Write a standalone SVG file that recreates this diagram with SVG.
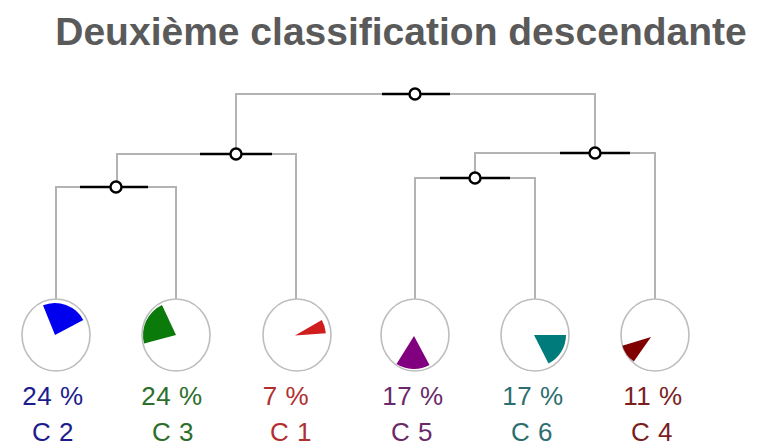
<svg xmlns="http://www.w3.org/2000/svg" width="759" height="448" viewBox="0 0 759 448">
<style>
.title{font-family:"Liberation Sans",Arial,sans-serif;font-weight:bold;font-size:39px;fill:#5a5a5a}
.lbl{font-family:"Liberation Sans",Arial,sans-serif;font-size:26px;text-anchor:middle;letter-spacing:0.5px}
.gl{stroke:#b3b3b3;stroke-width:2;fill:none}
.bl{stroke:#000;stroke-width:2.6;fill:none}
.nd{fill:#fff;stroke:#000;stroke-width:2.4}
.leaf{fill:#fff;stroke:#bdbdbd;stroke-width:1.6}
</style>
<rect width="759" height="448" fill="#fff"/>
<text class="title" x="401" y="45" text-anchor="middle">Deuxième classification descendante</text>
<g id="connectors">
<path class="gl" d="M236,154 V94 H595 V153"/>
<path class="gl" d="M117,187 V154 H296 V300"/>
<path class="gl" d="M56,300 V187 H176 V300"/>
<path class="gl" d="M475,178 V153 H655 V300"/>
<path class="gl" d="M415,300 V178 H535 V300"/>
<path class="bl" d="M382,94 H450"/>
<path class="bl" d="M200,154 H272"/>
<path class="bl" d="M80,187 H148"/>
<path class="bl" d="M560,153 H630"/>
<path class="bl" d="M440,178 H510"/>
</g>
<g id="n-root"><circle class="nd" cx="415" cy="94" r="5.5"/></g>
<g id="n-left"><circle class="nd" cx="236" cy="154" r="5.5"/></g>
<g id="n-c2c3"><circle class="nd" cx="116" cy="187" r="5.5"/></g>
<g id="n-right"><circle class="nd" cx="595" cy="153" r="5.5"/></g>
<g id="n-c5c6"><circle class="nd" cx="475" cy="178" r="5.5"/></g>
<g id="C2">
<ellipse class="leaf" cx="56" cy="335" rx="34" ry="36"/>
<path d="M55,335 L43,305.3 A32,32 0 0 1 83.3,320 Z" fill="#0000ee"/>
<text class="lbl" x="53" y="405" fill="#1c1c8c">24 %</text>
<text class="lbl" x="53" y="441" fill="#1c1c8c">C 2</text>
</g>
<g id="C3">
<ellipse class="leaf" cx="176" cy="335" rx="34" ry="36"/>
<path d="M176,335 L144.1,343.5 A33,33 0 0 1 162,305.1 Z" fill="#0a7a0a"/>
<text class="lbl" x="172" y="405" fill="#2d6e2d">24 %</text>
<text class="lbl" x="173" y="441" fill="#2d6e2d">C 3</text>
</g>
<g id="C1">
<ellipse class="leaf" cx="297" cy="335" rx="34" ry="36"/>
<path d="M295,335.5 L321.8,320 A31,31 0 0 1 325.9,333.3 Z" fill="#d01e1e"/>
<text class="lbl" x="286" y="405" fill="#b03030">7 %</text>
<text class="lbl" x="291" y="441" fill="#b03030">C 1</text>
</g>
<g id="C5">
<ellipse class="leaf" cx="415" cy="335" rx="34" ry="36"/>
<path d="M414,336 L429.5,365.1 A33,33 0 0 1 396.5,364 Z" fill="#800080"/>
<text class="lbl" x="413" y="405" fill="#6a2a6a">17 %</text>
<text class="lbl" x="412" y="441" fill="#6a2a6a">C 5</text>
</g>
<g id="C6">
<ellipse class="leaf" cx="535" cy="335" rx="34" ry="36"/>
<path d="M534,335 L566,335 A32,32 0 0 1 548.5,363.5 Z" fill="#007b7b"/>
<text class="lbl" x="533" y="405" fill="#2e6e6e">17 %</text>
<text class="lbl" x="532" y="441" fill="#2e6e6e">C 6</text>
</g>
<g id="C4">
<ellipse class="leaf" cx="655" cy="335" rx="34" ry="36"/>
<path d="M651,337 L633.8,361.6 A30,30 0 0 1 622.3,345.8 Z" fill="#800000"/>
<text class="lbl" x="653" y="405" fill="#7a1f1f">11 %</text>
<text class="lbl" x="652" y="441" fill="#7a1f1f">C 4</text>
</g>
</svg>
